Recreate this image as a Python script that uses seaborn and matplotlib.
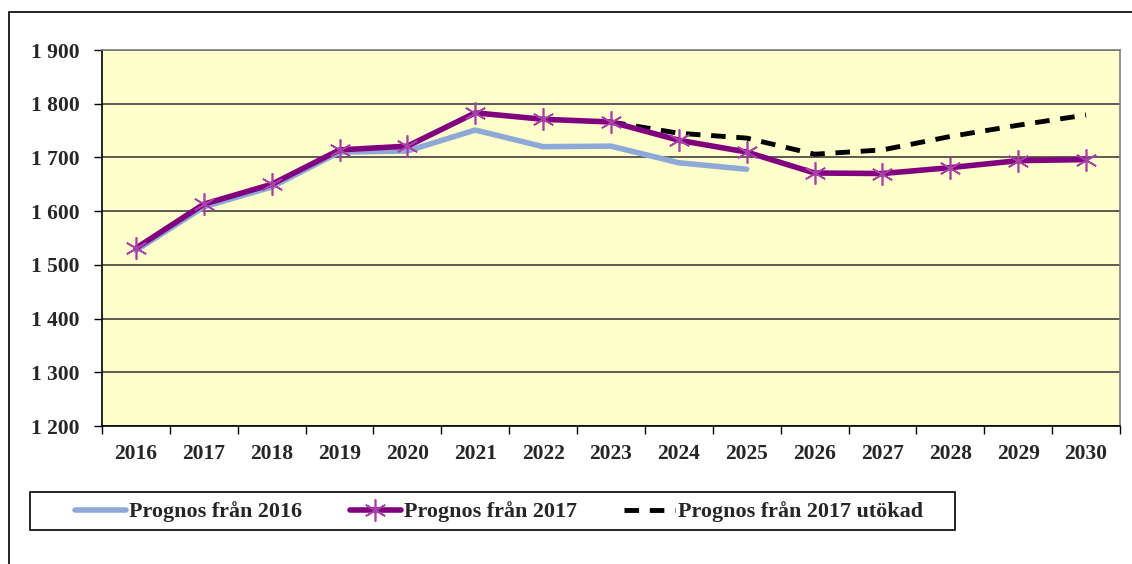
import numpy as np
import pandas as pd
import seaborn as sns
import matplotlib.pyplot as plt
from matplotlib.patches import Rectangle
from matplotlib.ticker import FuncFormatter, FixedLocator

years = list(range(2016, 2031))
prognos_2016 = [1527, 1608, 1645, 1710, 1712, 1751, 1720, 1721, 1690, 1678]
prognos_2017 = [1531, 1613, 1650, 1714, 1721, 1783, 1771, 1766, 1732, 1710,
                1671, 1670, 1681, 1694, 1696]
utokad_years = list(range(2023, 2031))
prognos_2017_utokad = [1766, 1745, 1736, 1706, 1714, 1739, 1760, 1779]

df16 = pd.DataFrame({"year": years[:len(prognos_2016)], "value": prognos_2016})
df17 = pd.DataFrame({"year": years, "value": prognos_2017})
dfut = pd.DataFrame({"year": utokad_years, "value": prognos_2017_utokad})

sns.set_style("white")
plt.rcParams['font.family'] = ['Liberation Serif', 'DejaVu Serif']
fs = 15.5

fig = plt.figure(figsize=(11.32, 5.64), dpi=100)
ax = fig.add_axes([102/1132, 1-426/564, (1120-102)/1132, (426-50)/564])
ax.set_facecolor("#FFFFCC")

sns.lineplot(data=df16, x="year", y="value", ax=ax, color="#8EA9D8", lw=4,
             label="Prognos från 2016", zorder=3)
sns.lineplot(data=dfut, x="year", y="value", ax=ax, color="black", lw=3.5,
             dashes=(3, 2.2), label="Prognos från 2017 utökad", zorder=4)
sns.lineplot(data=df17, x="year", y="value", ax=ax, color="#800080", lw=4,
             marker=(6, 2, 0), markersize=16, markeredgecolor="#A840A8",
             markeredgewidth=1.2, label="Prognos från 2017", zorder=5)

ax.set_xlim(2015.5, 2030.5)
ax.set_ylim(1200, 1900)
ax.set_xlabel("")
ax.set_ylabel("")

ax.yaxis.set_major_locator(FixedLocator(np.arange(1200, 1901, 100)))
ax.yaxis.set_major_formatter(FuncFormatter(lambda v, p: f"{int(v):,}".replace(",", " ")))
ax.grid(axis="y", color="#404040", lw=1.2)
ax.set_axisbelow(True)

ax.xaxis.set_major_locator(FixedLocator(np.arange(2015.5, 2031, 1)))
ax.xaxis.set_major_formatter(FuncFormatter(lambda v, p: ""))
ax.xaxis.set_minor_locator(FixedLocator(years))
ax.xaxis.set_minor_formatter(FuncFormatter(lambda v, p: str(int(round(v)))))
ax.tick_params(axis="x", which="major", direction="out", length=6, width=1, color="black", bottom=True)
ax.tick_params(axis="x", which="minor", length=0, pad=13, labelsize=fs)
ax.tick_params(axis="y", direction="out", length=6, width=1, color="black", left=True,
               pad=10, labelsize=fs)
for lab in ax.get_xticklabels(minor=True) + ax.get_yticklabels():
    lab.set_fontweight("bold")

for s in ["left", "bottom"]:
    ax.spines[s].set_color("black")
    ax.spines[s].set_linewidth(1.2)
for s in ["top", "right"]:
    ax.spines[s].set_color("#808080")
    ax.spines[s].set_linewidth(1.2)

handles, labels = ax.get_legend_handles_labels()
order = [labels.index(l) for l in ["Prognos från 2016", "Prognos från 2017", "Prognos från 2017 utökad"]]
ax.get_legend().remove()
leg = fig.legend([handles[i] for i in order], [labels[i] for i in order],
                 loc="center left", bbox_to_anchor=(75/1132, 1-512/564),
                 ncol=3, frameon=False, prop={"weight": "bold", "size": 15.9},
                 handlelength=2.3, handletextpad=0.15, columnspacing=2.15,
                 borderaxespad=0, borderpad=0)

fig.patches.append(Rectangle((30/1132, 1-530/564), 925/1132, 38/564, transform=fig.transFigure,
                             fill=False, edgecolor="black", lw=1.2))
fig.patches.append(Rectangle((9/1132, -0.1), 1.2, 1-12/564+0.1, transform=fig.transFigure,
                             fill=False, edgecolor="black", lw=1.2, clip_on=False))

fig.savefig("out.png", dpi=100)
